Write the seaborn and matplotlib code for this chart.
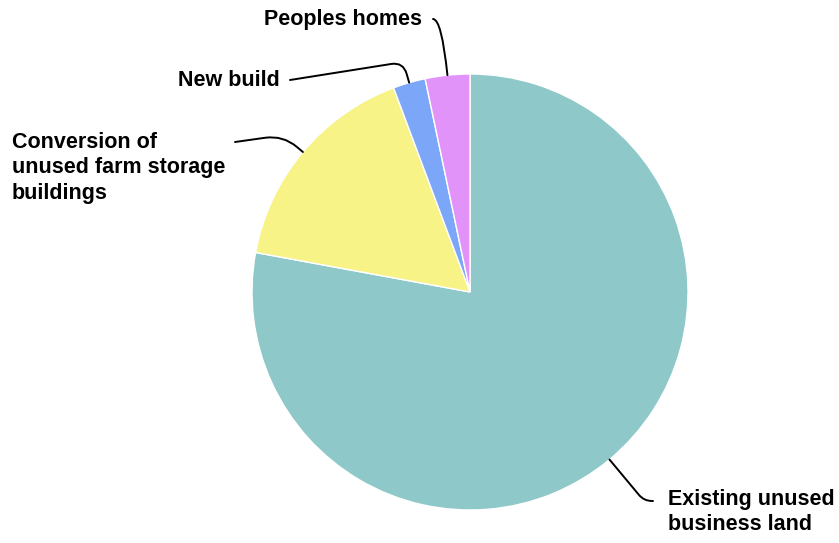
import numpy as np
import pandas as pd
import matplotlib.pyplot as plt
import seaborn as sns

# dados (percentual estimado)
categorias = ["Existing unused\nbusiness land", "Conversion of\nunused farm storage\nbuildings",
              "New build", "Peoples homes"]
valores = [77.9, 16.4, 2.4, 3.3]
cores = ["#8ec8c9", "#f7f386", "#7ca7f8", "#e193f9"]

sns.set_theme(style="white")
plt.rcParams["font.family"] = ["Liberation Sans", "DejaVu Sans"]

W, H = 839, 543
fig = plt.figure(figsize=(W / 100, H / 100), dpi=100)
# centro da pizza em (470, 292) px, raio 218 px
cx, cy, r = 470, 292, 218
ax = fig.add_axes([(cx - r) / W, (H - cy - r) / H, 2 * r / W, 2 * r / H])

wedges, _ = ax.pie(valores, colors=cores, startangle=90, counterclock=False,
                   wedgeprops=dict(edgecolor="white", linewidth=1))
ax.set_xlim(-1, 1)
ax.set_ylim(-1, 1)
ax.axis("off")

# rótulos: (posição do texto, alinhamento, início do conector, estilo do conector)
rotulos = [
    ((668, 512), "left", (653, 501), "angle,angleA=0,angleB={ang},rad=8"),
    ((12, 168), "left", (235, 142), "angle,angleA=8,angleB={ang},rad=18"),
    ((280, 80), "right", (290, 80), "angle,angleA=9,angleB={ang},rad=12"),
    ((422, 19), "right", (433, 19), "angle3,angleA=0,angleB={ang}"),
]

for w, cat, (pos, ha, inicio, estilo) in zip(wedges, categorias, rotulos):
    ang = (w.theta1 + w.theta2) / 2
    ponto = (np.cos(np.radians(ang)), np.sin(np.radians(ang)))
    fig.text(pos[0] / W, 1 - pos[1] / H, cat, ha=ha, va="center",
             fontsize=15.5, fontweight="bold", color="black", linespacing=1.27)
    ax.annotate("", xy=ponto, xycoords="data",
                xytext=(inicio[0], H - inicio[1]), textcoords="figure pixels",
                arrowprops=dict(arrowstyle="-", color="black", lw=1.4,
                                shrinkA=0, shrinkB=0,
                                connectionstyle=estilo.format(ang=round(ang, 1))),
                annotation_clip=False)

fig.savefig("out.png", dpi=100)
